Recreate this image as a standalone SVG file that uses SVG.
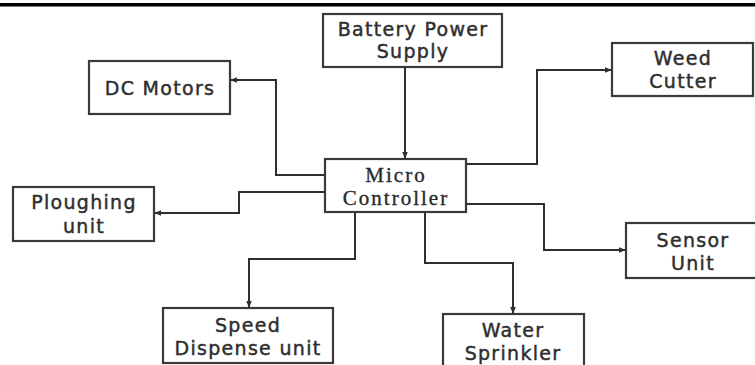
<svg xmlns="http://www.w3.org/2000/svg" width="755" height="365" viewBox="0 0 755 365">
<style>
.box{fill:#fff;stroke:#3a3a3a;stroke-width:2.2}
.t{font-family:"DejaVu Sans",Verdana,sans-serif;font-size:19px;letter-spacing:1.3px;fill:#2e2e2e;stroke:#2e2e2e;stroke-width:0.45;text-anchor:middle}
.s{font-family:"Liberation Serif","Times New Roman",serif;font-size:21px;letter-spacing:2px;fill:#2a2a2a;stroke:#2a2a2a;stroke-width:0.35;text-anchor:middle}
.c{fill:none;stroke:#2e2e2e;stroke-width:2;marker-end:url(#ah)}
</style>
<defs>
<marker id="ah" viewBox="0 0 8 8" refX="7" refY="4" markerWidth="7" markerHeight="7" markerUnits="userSpaceOnUse" orient="auto">
<path d="M0,0.8 L8,4 L0,7.2 Z" fill="#2e2e2e"/>
</marker>
</defs>
<rect x="0" y="3" width="755" height="3.5" fill="#000"/>
<g id="connectors">
<path class="c" d="M405,67 V158"/>
<path class="c" d="M325,175 H276 V80 H231"/>
<path class="c" d="M466,164 H537 V70 H611"/>
<path class="c" d="M325,192 H239 V213 H155"/>
<path class="c" d="M355,212 V259 H249 V307"/>
<path class="c" d="M425,212 V263 H513 V313"/>
<path class="c" d="M466,204 H544 V250 H625"/>
</g>
<g id="battery">
<rect class="box" x="323" y="14" width="179" height="53"/>
<text class="t" x="413" y="36">Battery Power</text>
<text class="t" x="413" y="58">Supply</text>
</g>
<g id="dcmotors">
<rect class="box" x="89" y="61" width="141" height="53"/>
<text class="t" x="160" y="95">DC Motors</text>
</g>
<g id="weedcutter">
<rect class="box" x="612" y="43" width="141" height="53"/>
<text class="t" x="683" y="65">Weed</text>
<text class="t" x="683" y="88">Cutter</text>
</g>
<g id="microcontroller">
<rect class="box" x="325" y="159" width="141" height="53"/>
<text class="s" x="396" y="182">Micro</text>
<text class="s" x="396" y="205">Controller</text>
</g>
<g id="ploughing">
<rect class="box" x="13" y="187" width="141" height="54"/>
<text class="t" x="84" y="209">Ploughing</text>
<text class="t" x="84" y="233">unit</text>
</g>
<g id="sensor">
<rect class="box" x="626" y="223" width="134" height="55"/>
<text class="t" x="693" y="247">Sensor</text>
<text class="t" x="693" y="270">Unit</text>
</g>
<g id="speed">
<rect class="box" x="163" y="308" width="170" height="55"/>
<text class="t" x="248" y="332">Speed</text>
<text class="t" x="248" y="355">Dispense unit</text>
</g>
<g id="water">
<rect class="box" x="443" y="314" width="141" height="60"/>
<text class="t" x="513" y="337">Water</text>
<text class="t" x="513" y="360">Sprinkler</text>
</g>
</svg>
